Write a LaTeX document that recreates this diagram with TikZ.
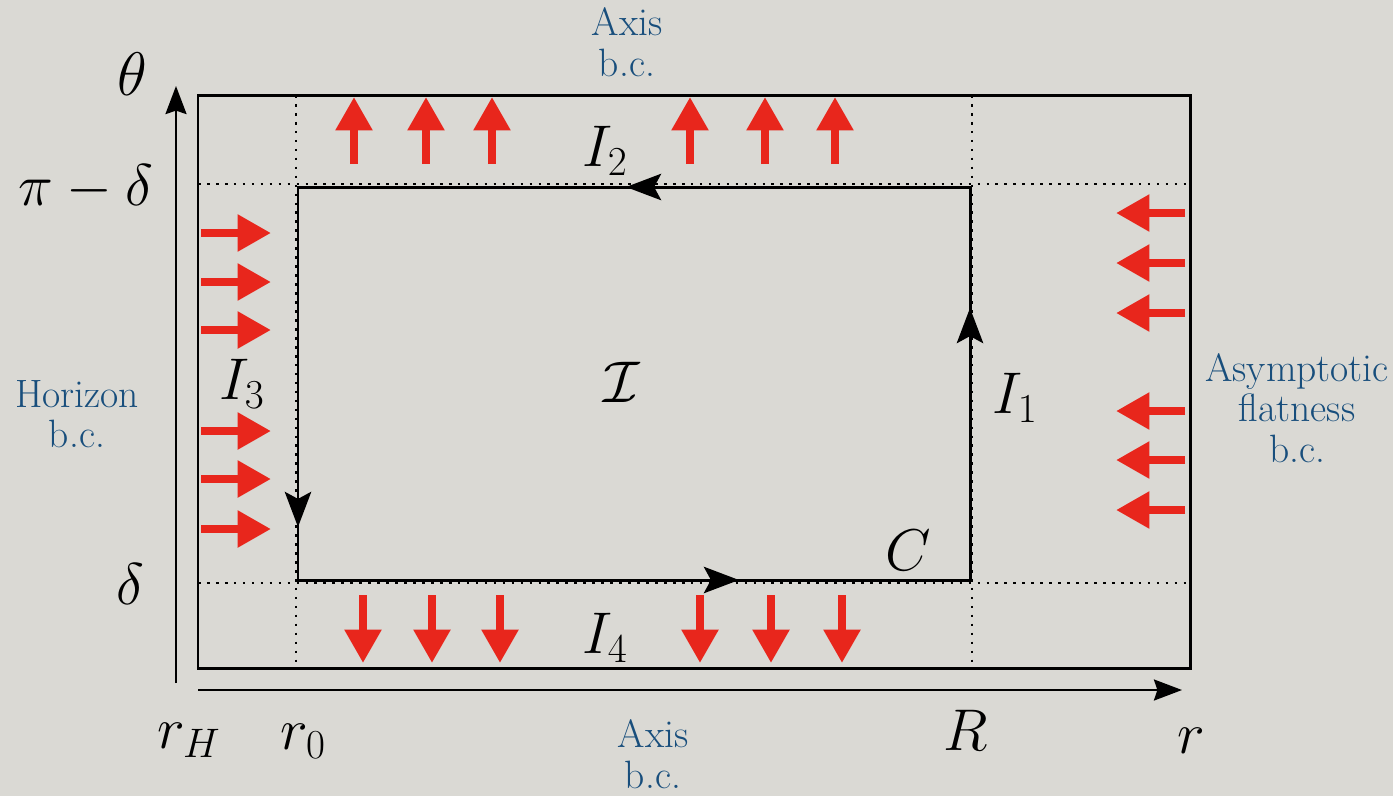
\RequirePackage{fix-cm}
\documentclass[tikz,border=0pt]{standalone}
\usepackage{fontspec}
\usetikzlibrary{arrows.meta}
\definecolor{bgc}{RGB}{218,217,212}
\definecolor{bcblue}{RGB}{24,78,124}
\definecolor{fred}{RGB}{232,38,28}
\begin{document}
\begin{tikzpicture}[x=0.02cm,y=-0.02cm,
  mlab/.style={inner sep=0pt,font=\fontsize{33.5}{40}\selectfont},
  bclab/.style={inner sep=0pt,align=center,text=bcblue,font=\fontsize{22.5}{23}\selectfont},
  frame/.style={line width=1.7pt},
  dotline/.style={line width=1.5pt,dash pattern=on 1.5pt off 3.6pt},
  axisline/.style={line width=1.1pt,-{Stealth[length=16pt,width=12pt,inset=2pt]}},
  contour/.style={line width=1.7pt},
  cseg/.style={line width=1.7pt,-{Stealth[length=20pt,width=15pt,inset=4pt]}},
  redarrow/.style={fred,line width=4.6pt,-{Triangle[length=19pt,width=20pt]}}]
\fill[bgc] (0,0) rectangle (1393,796);
% dotted grid lines
\draw[dotline] (198,184) -- (1190,184);
\draw[dotline] (198,583) -- (1190,583);
\draw[dotline] (296,95) -- (296,668);
\draw[dotline] (972,95) -- (972,668);
% outer frame
\draw[frame] (198,95) rectangle (1190,668);
% axes
\coordinate (tb) at (176,683);
\coordinate (tt) at (176,86);
\coordinate (rb) at (198,690);
\coordinate (rt) at (1182,690);
\draw[axisline] (tb) -- (tt);
\draw[axisline] (rb) -- (rt);
% contour C
\coordinate (c1) at (970,580);
\coordinate (c2) at (970,187);
\coordinate (c3) at (298,187);
\coordinate (c4) at (298,580);
\coordinate (a1) at (970,308);
\coordinate (a2) at (626,187);
\coordinate (a3) at (298,527);
\coordinate (a4) at (739,580);
\draw[contour,line join=miter] (c1) -- (c2) -- (c3) -- (c4) -- cycle;
\draw[cseg] (c1) -- (a1);
\draw[cseg] (c2) -- (a2);
\draw[cseg] (c3) -- (a3);
\draw[cseg] (c4) -- (a4);
% red arrows
\foreach \x in {354,426,492,690,765,835}{
  \coordinate (ut\x) at (\x,164);
  \coordinate (uh\x) at (\x,97);
  \draw[redarrow] (ut\x) -- (uh\x);}
\foreach \x in {363,432,500,700,771,842}{
  \coordinate (dt\x) at (\x,595);
  \coordinate (dh\x) at (\x,663);
  \draw[redarrow] (dt\x) -- (dh\x);}
\foreach \y in {233,282,330,431,479,529}{
  \coordinate (lt\y) at (201,\y);
  \coordinate (lh\y) at (271,\y);
  \draw[redarrow] (lt\y) -- (lh\y);}
\foreach \y in {213,263,313,411,460,510}{
  \coordinate (rt\y) at (1185,\y);
  \coordinate (rh\y) at (1116,\y);
  \draw[redarrow] (rt\y) -- (rh\y);}
% math labels
\node[mlab,font=\fontsize{35}{42}\selectfont] (theta) at (132,74) {$\theta$};
\node[mlab] (pid) at (86,188) {$\pi-\delta$};
\node[mlab] (del) at (130,584) {$\delta$};
\node[mlab] (rH) at (189,740) {$r_H$};
\node[mlab] (r0) at (303,741) {$r_0$};
\node[mlab] (Rl) at (966,730) {$R$};
\node[mlab] (rl) at (1191,741) {$r$};
\node[mlab] (I2) at (605,151) {$I_2$};
\node[mlab] (I3) at (242,384) {$I_3$};
\node[mlab] (I1) at (1015,398) {$I_1$};
\node[mlab] (I4) at (605,638) {$I_4$};
\node[mlab] (Ical) at (622,382) {$\mathcal{I}$};
\node[mlab] (Cl) at (908,550) {$C$};
% boundary condition labels
\node[bclab] (axtop) at (627,42) {Axis\\b.c.};
\node[bclab] (axbot) at (653,754) {Axis\\b.c.};
\node[bclab] (hor) at (77,414) {Horizon\\b.c.};
\node[bclab] (asy) at (1297,408) {Asymptotic\\flatness\\b.c.};
\end{tikzpicture}
\end{document}
